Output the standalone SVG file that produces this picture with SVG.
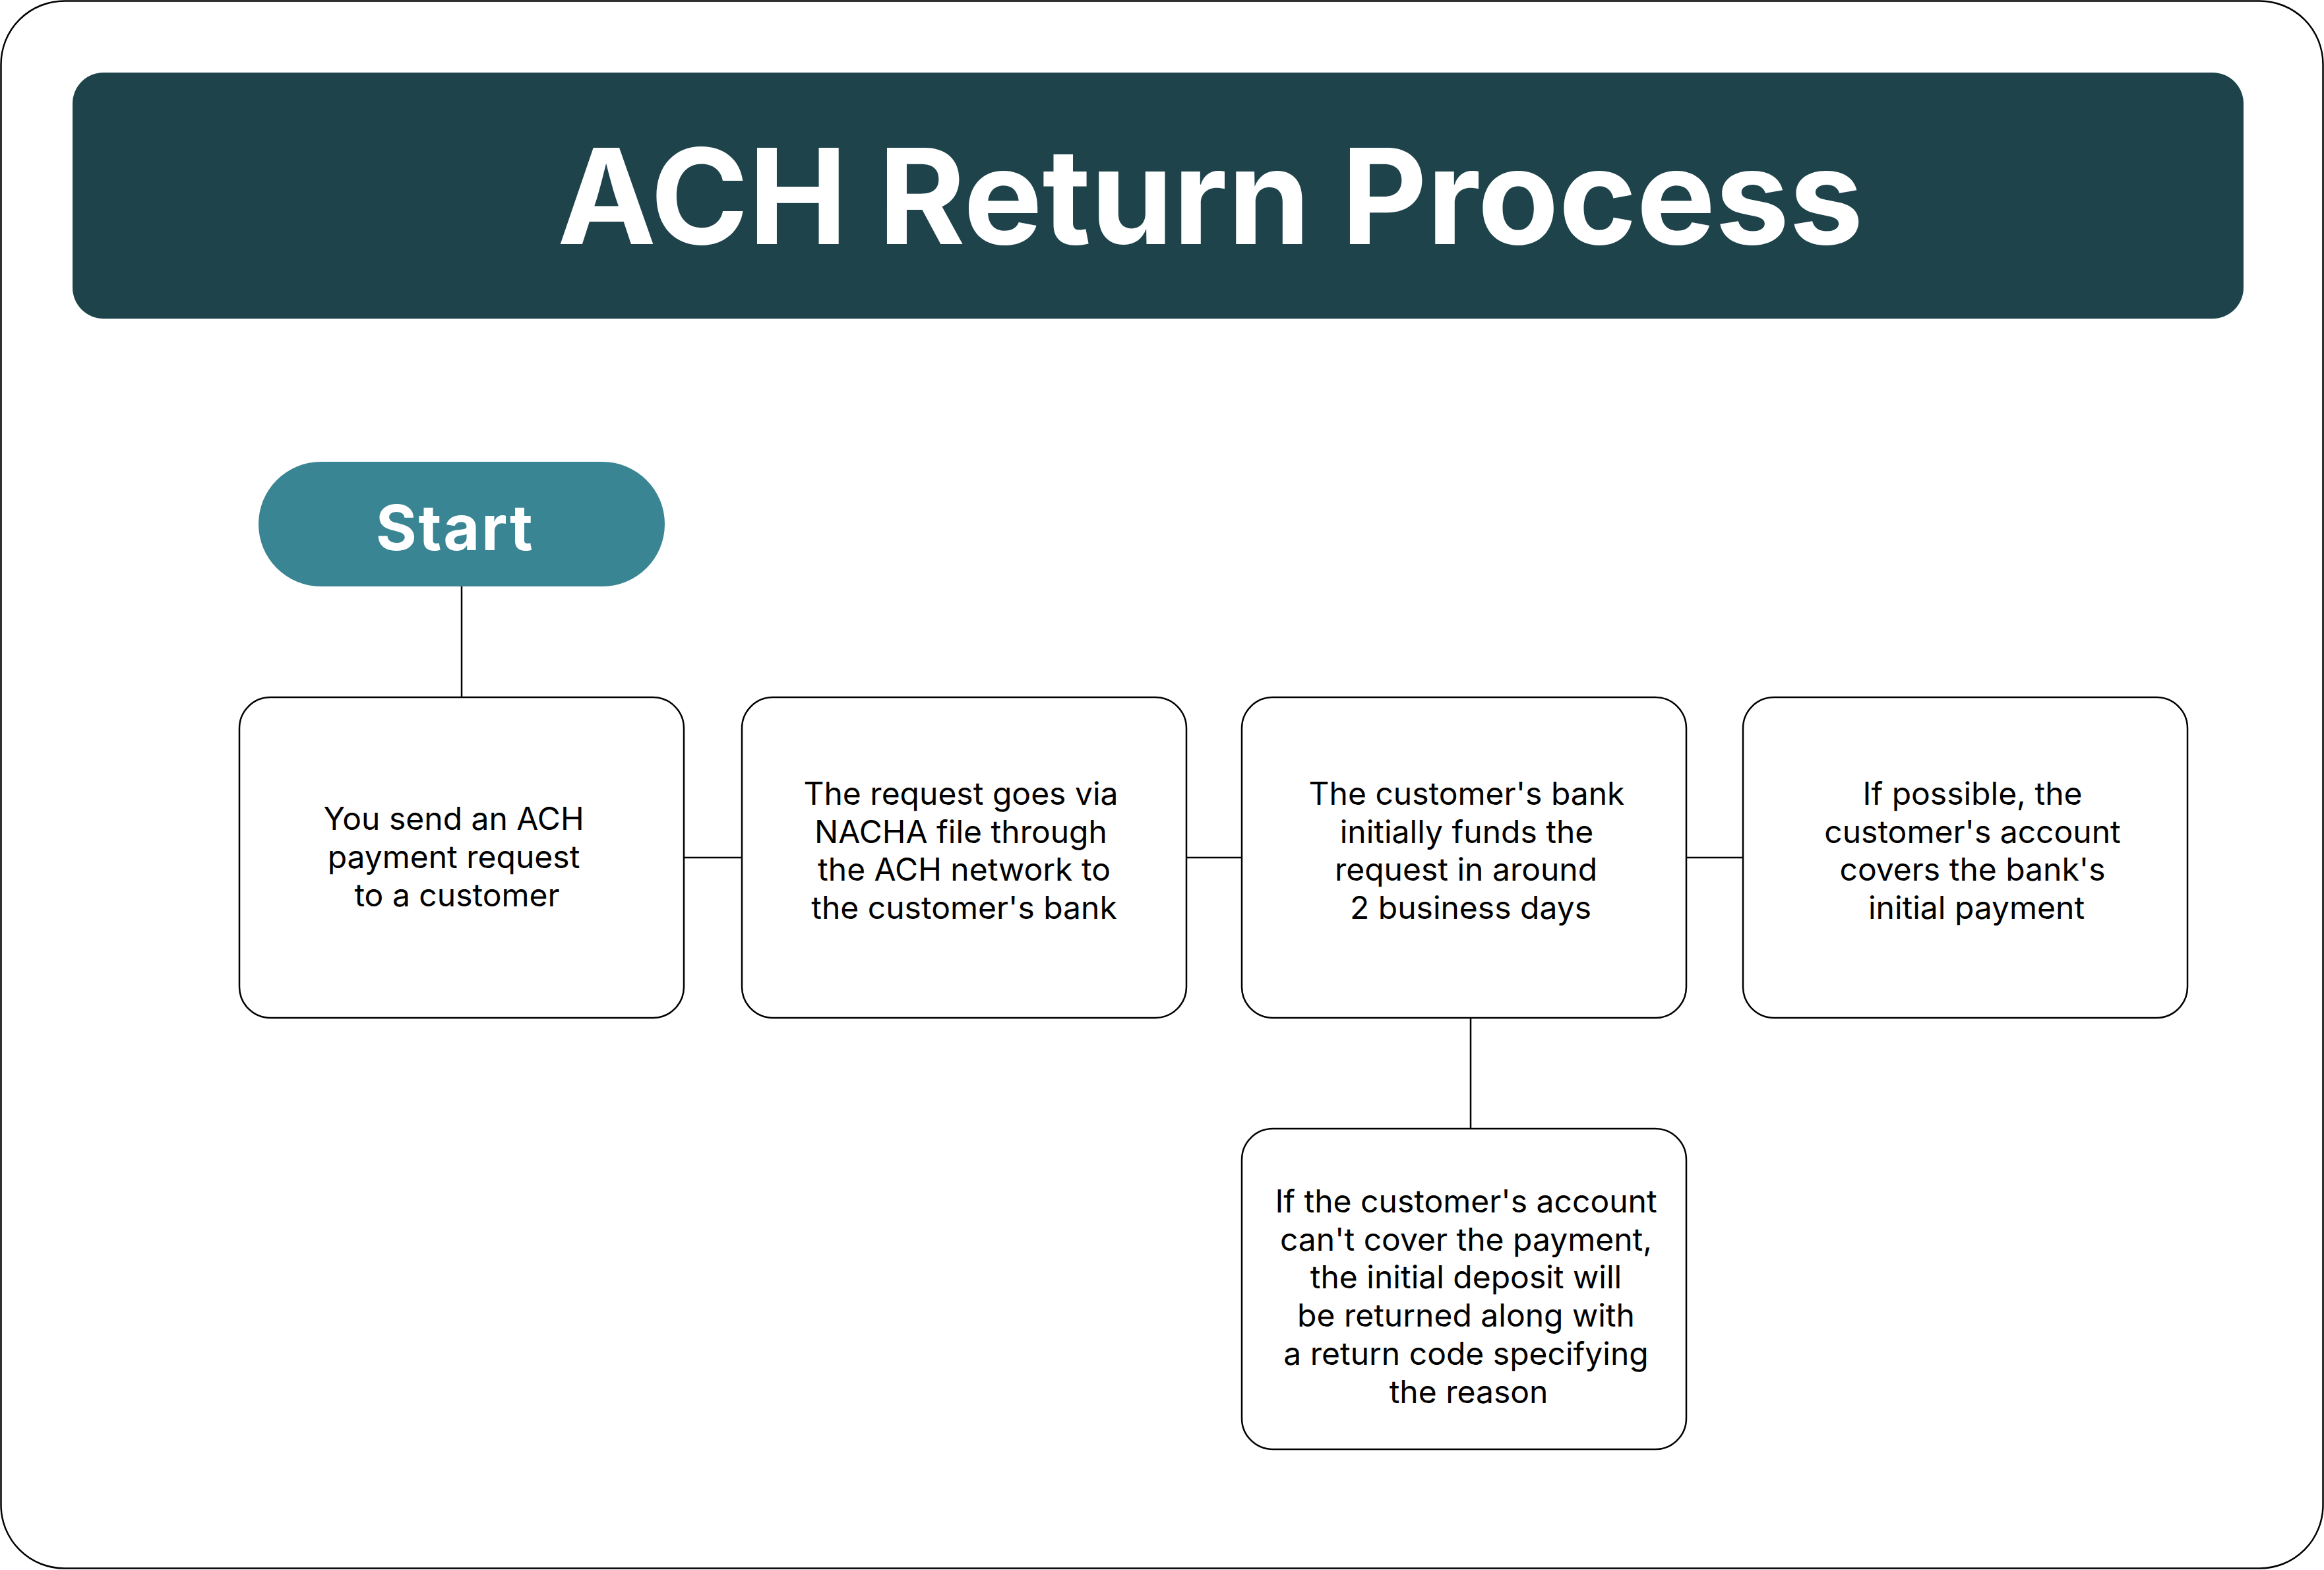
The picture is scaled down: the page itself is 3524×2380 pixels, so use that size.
<svg xmlns="http://www.w3.org/2000/svg" width="3524" height="2380" viewBox="0 0 3524 2380">
<style>
.box{fill:#ffffff;stroke:#000000;stroke-width:2.5}
.conn{stroke:#000000;stroke-width:2.5;fill:none}
.body{font-family:Inter,"Liberation Sans",sans-serif;font-size:48px;fill:#000000;text-anchor:middle}
.title{font-family:Inter,"Liberation Sans",sans-serif;font-weight:700;font-size:201px;fill:#ffffff}
.start{font-family:Inter,"Liberation Sans",sans-serif;font-weight:700;font-size:95px;fill:#ffffff;text-anchor:middle}
</style>
<rect x="0" y="0" width="3524" height="2380" fill="#ffffff"/>
<rect x="1.5" y="1.5" width="3521" height="2376" rx="96" ry="96" fill="#ffffff" stroke="#000000" stroke-width="2.5"/>
<g id="header">
<rect x="110" y="110" width="3292" height="373" rx="47" ry="47" fill="#1E434A"/>
<text class="title" x="845" y="370" letter-spacing="-0.3">ACH Return Process</text>
</g>
<g id="connectors">
<line class="conn" x1="700" y1="889" x2="700" y2="1057"/>
<line class="conn" x1="1037" y1="1300" x2="1125" y2="1300"/>
<line class="conn" x1="1799" y1="1300" x2="1883" y2="1300"/>
<line class="conn" x1="2557" y1="1300" x2="2643" y2="1300"/>
<line class="conn" x1="2230" y1="1543" x2="2230" y2="1711"/>
</g>
<g id="start">
<rect x="392" y="700" width="616" height="189" rx="94.5" ry="94.5" fill="#3A8593"/>
<text class="start" x="690" y="834" letter-spacing="2.5">Start</text>
</g>
<g id="step1">
<rect class="box" x="363" y="1057" width="674" height="486" rx="47" ry="47"/>
<text class="body" y="1258"><tspan x="688">You send an ACH</tspan><tspan x="688" y="1316">payment request</tspan><tspan x="693" y="1374">to a customer</tspan></text>
</g>
<g id="step2">
<rect class="box" x="1125" y="1057" width="674" height="486" rx="47" ry="47"/>
<text class="body" y="1220"><tspan x="1457">The request goes via</tspan><tspan x="1457" y="1278">NACHA file through</tspan><tspan x="1462" y="1335">the ACH network to</tspan><tspan x="1462" y="1393">the customer's bank</tspan></text>
</g>
<g id="step3">
<rect class="box" x="1883" y="1057" width="674" height="486" rx="47" ry="47"/>
<text class="body" y="1220"><tspan x="2224">The customer's bank</tspan><tspan x="2224" y="1278">initially funds the</tspan><tspan x="2223" y="1335">request in around</tspan><tspan x="2230" y="1393">2 business days</tspan></text>
</g>
<g id="step4">
<rect class="box" x="2643" y="1057" width="674" height="486" rx="47" ry="47"/>
<text class="body" y="1220"><tspan x="2991">If possible, the</tspan><tspan x="2991" y="1278">customer's account</tspan><tspan x="2991" y="1335">covers the bank's</tspan><tspan x="2997" y="1393">initial payment</tspan></text>
</g>
<g id="step5">
<rect class="box" x="1883" y="1711" width="674" height="486" rx="47" ry="47"/>
<text class="body" y="1838"><tspan x="2223">If the customer's account</tspan><tspan x="2223" y="1896">can't cover the payment,</tspan><tspan x="2223" y="1953">the initial deposit will</tspan><tspan x="2223" y="2011">be returned along with</tspan><tspan x="2223" y="2069">a return code specifying</tspan><tspan x="2227" y="2127">the reason</tspan></text>
</g>
</svg>
